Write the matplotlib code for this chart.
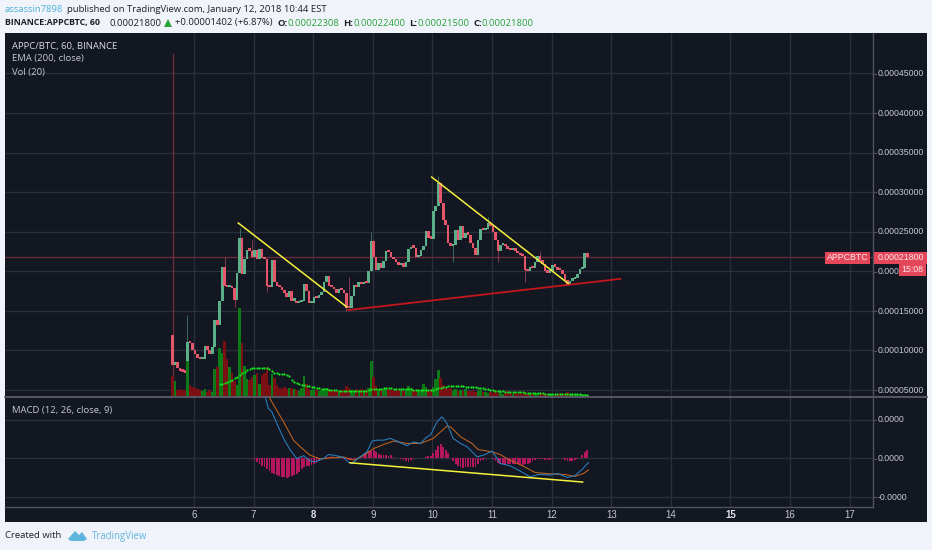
import numpy as np
import matplotlib
matplotlib.use("Agg")
import matplotlib.pyplot as plt
from matplotlib.patches import Rectangle, Polygon

W, H = 932, 550
BG = "#131722"
GRID = "#2b2f3b"
AXIS = "#50535e"
PAGE = "#f0f3fa"
TXT = "#c5c8d0"
UP = "#5bb08a"
DOWN = "#e5566a"
LINE_RED = "#6e2a3a"

# first candle opens here, every later one opens at the previous close (1e-5 BTC)
first_open = 12.0
closes = [8.2, 8.5, 7.8, 7.4, 7.3, 7.2, 11.1, 10.9, 10.0, 9.6,
          9.1, 8.9, 8.9, 10.5, 10.0, 9.6, 10.4, 13.8, 13.2, 16.3,
          20.6, 18.1, 18.0, 18.1, 17.9, 16.4, 19.8, 24.2, 19.6, 21.6,
          22.7, 22.6, 21.8, 22.7, 21.5, 22.8, 21.7, 21.5, 18.2, 18.0,
          21.4, 18.6, 18.2, 18.0, 17.6, 17.2, 16.7, 17.5, 16.3, 16.3,
          16.0, 16.1, 16.3, 18.4, 17.5, 16.0, 16.0, 16.8, 16.6, 17.0,
          17.4, 18.7, 19.4, 18.2, 18.0, 17.7, 17.3, 17.8, 17.6, 17.2,
          15.4, 15.3, 16.9, 18.3, 18.0, 18.6, 18.4, 18.7, 18.5, 20.0,
          23.8, 21.8, 20.2, 21.0, 20.4, 21.3, 22.5, 22.4, 21.8, 21.5,
          21.2, 20.8, 21.0, 20.6, 21.2, 22.8, 23.1, 23.0, 21.8, 21.9,
          22.7, 23.2, 25.1, 24.2, 24.1, 27.6, 28.2, 31.2, 28.6, 26.5,
          25.9, 23.6, 23.2, 23.3, 25.2, 24.0, 25.7, 24.2, 24.8, 24.6,
          23.6, 23.0, 22.1, 24.0, 25.3, 25.2, 25.3, 26.1, 25.7, 24.9,
          23.9, 22.5, 23.3, 23.3, 23.2, 22.8, 22.7, 23.0, 22.5, 22.3,
          22.0, 21.9, 20.2, 20.0, 20.6, 20.4, 21.2, 21.9, 21.4, 20.9,
          20.0, 19.8, 20.0, 20.8, 20.6, 20.2, 20.1, 19.6, 18.9, 18.3,
          18.8, 19.0, 19.1, 19.6, 20.3, 20.4, 22.3, 21.8]
# candles with a wick long enough to read
wick_hours = [6, 21, 27, 32, 71, 80, 107, 127, 148, 25, 113, 131, 142, 70, 38]
wick_ends = [14.5, 21.8, 25.5, 24.0, 19.3, 24.9, 32.0, 26.9, 22.6, 15.5, 21.2, 21.2, 18.7, 15.0, 17.4]

volumes = [21, 16, 7, 8, 7, 7, 36, 12, 10, 9,
           8, 7, 6, 8, 5, 7, 5, 28, 30, 49,
           44, 56, 38, 30, 24, 16, 12, 89, 54, 31,
           18, 17, 20, 22, 24, 13, 22, 24, 30, 12,
           23, 19, 12, 9, 8, 10, 8, 9, 9, 8,
           7, 6, 9, 21, 13, 8, 7, 8, 7, 6,
           7, 8, 9, 8, 7, 6, 7, 6, 7, 7,
           11, 9, 7, 7, 8, 7, 8, 7, 7, 9,
           36, 20, 11, 8, 8, 8, 9, 8, 7, 7,
           6, 7, 6, 6, 8, 11, 9, 7, 6, 7,
           7, 13, 10, 7, 8, 10, 18, 27, 19, 12,
           9, 8, 9, 7, 8, 6, 7, 6, 8, 6,
           6, 7, 5, 6, 7, 5, 5, 4, 5, 4,
           6, 4, 5, 3, 4, 6, 4, 3, 4, 3,
           4, 3, 5, 3, 4, 3, 3, 4, 3, 4,
           3, 2, 3, 3, 2, 3, 4, 3, 3, 5,
           3, 2, 3, 2, 3, 2, 3, 2]
# volume average starts at hour 19
vol_ma = [12.7, 13.5, 14, 15, 16, 17, 19, 20, 22, 24, 25.5,
          27, 28, 29, 29.5, 29.5, 29.5, 29, 29, 29, 28,
          26, 24.5, 24, 23.5, 23, 23, 22.5, 21, 17, 15,
          14, 13, 12.5, 12, 11.5, 11, 10.5, 10, 9.5, 9,
          8.5, 8, 8, 7.5, 7, 7, 7, 6.5, 6.5, 6.5,
          6.5, 6.5, 6, 6, 6, 6, 6, 6, 6, 7,
          8, 8.5, 8.5, 8.5, 8.5, 9, 9, 9, 8.7, 8.5,
          8.3, 8.2, 8, 7.9, 7.8, 7.7, 7.6, 7.5, 7.4, 7.3,
          7.2, 7.1, 7, 7, 7, 7.5, 8, 9, 9.5, 10,
          10.5, 10.8, 11, 11, 11, 10.8, 10.7, 10.6, 10.5, 10.3,
          10, 9.8, 9.6, 9.5, 9.3, 9, 8.5, 8, 7.5, 6.8,
          6, 5.8, 5.7, 5.6, 5.5, 5.4, 5.3, 5.2, 5.1, 5,
          4.9, 4.7, 4.5, 4.4, 4.3, 4.1, 4, 3.9, 3.7, 3.6,
          3.5, 3.4, 3.3, 3.3, 3.2, 3.2, 3.2, 3.1, 3.1, 3,
          3, 2.9, 2.8, 2.7, 2.6, 2.5, 2.4, 2.3]

macd_hours = [35, 37.3, 38.6, 40, 42, 44.7, 47.4, 50, 52.8, 55.4, 57.5, 60.8, 62.8, 65, 69, 70.5, 72.2, 75.6, 78.3,
              80.3, 82.3, 85, 87.7, 90.4, 94.4, 97, 99.8, 102, 104, 106.5, 108.5, 110.5, 113, 116, 118.6, 122.6,
              125.3, 128.7, 132, 136, 140, 144, 147.5, 152, 155, 159, 162, 165, 167.5]
macd_vals = [3.6, 3.16, 2.57, 2.39, 1.8, 1.03, 0.43, 0, 0.14, -0.12, -0.17, 0, 0.2, 0.17, 0.05, -0.17, -0.26, 0.09, 0.34,
             0.89, 0.94, 0.94, 1.03, 0.89, 0.65, 0.85, 0.77, 1.06, 1.23, 1.88, 2.14, 1.8, 1.03, 0.77, 0.6, 0.09,
             0.17, 0.38, -0.26, -0.38, -0.65, -0.94, -0.82, -0.85, -0.77, -0.97, -0.89, -0.55, -0.2]
signal_hours = [37, 38.8, 44.7, 48.7, 51.4, 55.4, 59.5, 63.5, 69, 73, 77, 81, 85, 89, 94.4, 99.8, 105, 110.5, 112,
                116, 120.6, 123, 128.7, 132, 135, 141, 146, 152, 158, 162, 165.5, 167.5]
signal_vals = [3.7, 3.16, 1.88, 0.94, 0.6, 0.17, -0.03, 0.03, 0.07, -0.09, 0.17, 0.51, 0.72, 0.89, 0.77, 0.77, 1.03, 1.66, 1.62,
               1.11, 0.77, 0.46, 0.34, 0.2, -0.03, -0.38, -0.72, -0.79, -0.82, -0.92, -0.77, -0.58]
# histogram starts at hour 33
macd_hist = [-0.1, -0.2, -0.3, -0.4, -0.45, -0.55, -0.65, -0.72, -0.78, -0.85, -0.9, -0.93, -0.97, -1.0, -0.95, -0.9, -0.85,
             -0.8, -0.7, -0.55, -0.45, -0.4, -0.38, -0.35, -0.3, -0.25, -0.12, -0.05, 0.05, 0.1, 0.1, 0.12, 0.08, 0.05,
             0.03, 0.02, -0.03, -0.05, -0.1, -0.1, -0.05, 0.02, 0.08, 0.15, 0.25, 0.35, 0.4, 0.38, 0.42, 0.35, 0.25, 0.2,
             0.2, 0.17, 0.15, 0.17, 0.07, 0.05, 0.02, -0.03, -0.1, -0.15, -0.18, -0.1, -0.02, 0.0, 0.02, 0.03, 0.05, 0.1,
             0.15, 0.15, 0.3, 0.45, 0.65, 0.72, 0.6, 0.45, 0.3, 0.0, -0.15, -0.3, -0.4, -0.45, -0.48, -0.45, -0.45, -0.45,
             -0.45, -0.45, -0.3, -0.15, -0.08, -0.02, 0.0, 0.02, -0.02, -0.15, -0.22, -0.28, -0.3, -0.32, -0.3, -0.3, -0.3,
             -0.3, -0.3, -0.32, -0.32, -0.3, -0.28, -0.22, -0.12, -0.06, -0.03, -0.03, -0.05, -0.08, -0.1, -0.06, -0.02, 0,
             0, 0, -0.02, -0.08, -0.12, -0.14, -0.14, -0.1, -0.05, 0.05, 0.2, 0.35, 0.42]

trend1_days, trend1_px = [6.743, 8.562], [26.1, 15.5]
trend2_days, trend2_px = [9.988, 12.28], [31.9, 18.45]
support_days, support_px = [8.59, 13.15], [15.1, 19.04]
macd_trend_days, macd_trend_vals = [8.617, 12.52], [-0.22, -1.21]
last_price = 21.8
start_marker_day, start_marker_top = 5.64, 47.6

price_ticks = [5, 10, 15, 20, 25, 30, 35, 40, 45]
day_ticks = list(range(6, 18))
macd_ticks = [2.0, 0.0, -2.0]
macd_labels = ["0.0000", "0.0000", "-0.0000"]
bold_days = [8, 15]

plt.rcParams["font.family"] = ["Liberation Sans", "DejaVu Sans"]
AXFONT = 6.3
DAYFONT = 6.9
UIFONT = 6.8


def px_axes(x0, y0, x1, y1, **kw):
    return fig.add_axes([x0 / W, 1 - y1 / H, (x1 - x0) / W, (y1 - y0) / H], **kw)


def hour2day(h):
    return 5.64 + np.asarray(h, dtype=float) / 24


fig = plt.figure(figsize=(W / 100, H / 100), dpi=100, facecolor=PAGE)

frame = px_axes(5, 33, 927, 522)
frame.set_facecolor(BG)
frame.set_xticks([])
frame.set_yticks([])
frame.set_zorder(-5)
for s in frame.spines.values():
    s.set_visible(False)

XLIM = (6 - 189 / 59.6, 6 + 678.5 / 59.6)
hours = np.arange(len(closes))
days = hour2day(hours)
closes_a = np.array(closes)
opens = np.concatenate([[first_open], closes_a[:-1]])
is_up = closes_a >= opens
tops = np.maximum(opens, closes_a)
bottoms = np.minimum(opens, closes_a)
bar_w = 1.05 / 24

# price pane
ax = px_axes(5, 33, 872.5, 397)
ax.patch.set_alpha(0)
ax.set_xlim(XLIM)
ax.set_ylim(4.12, 50.1)
ax.set_xticks(day_ticks)
ax.set_yticks(price_ticks)
ax.grid(True, color=GRID, lw=1)
ax.set_axisbelow(True)
ax.tick_params(length=0, labelbottom=False, labelleft=False)
for s in ax.spines.values():
    s.set_visible(False)

ax.axhline(last_price, color=LINE_RED, lw=0.9, zorder=1)
ax.vlines(start_marker_day, 4.12, start_marker_top, color=LINE_RED, lw=1, zorder=1)

for h, end in zip(wick_hours, wick_ends):
    ax.vlines(hour2day(h), min(end, bottoms[h]), max(end, tops[h]),
              color=UP if is_up[h] else DOWN, lw=0.7, alpha=0.55, zorder=2)
body = np.maximum(tops - bottoms, 0.3)
ax.bar(days[is_up], body[is_up], bottom=bottoms[is_up], width=bar_w, color=UP, lw=0, zorder=3)
ax.bar(days[~is_up], body[~is_up], bottom=bottoms[~is_up], width=bar_w, color=DOWN, lw=0, zorder=3)

ax.plot(trend1_days, trend1_px, color="#f5f03c", lw=1.1, zorder=6)
ax.plot(trend2_days, trend2_px, color="#f5f03c", lw=1.1, zorder=6)
ax.plot(support_days, support_px, color="#c4161c", lw=1.3, zorder=5)

# volume sits with the candles, heights are free units
vol = px_axes(5, 33, 872.5, 397)
vol.patch.set_alpha(0)
vol.set_xlim(XLIM)
vol.set_ylim(0, 364)
vol.axis("off")
vol_a = np.array(volumes)
vol.bar(days[is_up], vol_a[is_up], width=bar_w, color="#0b7a17", lw=0, zorder=2)
vol.bar(days[~is_up], vol_a[~is_up], width=bar_w, color="#7a0f14", lw=0, zorder=2)
vol.plot(hour2day(np.arange(19, 168)), vol_ma, ls="none", marker="o", ms=1.6, mew=0, color="#14e81e", zorder=4)
ax.set_zorder(2)
vol.set_zorder(3)

# MACD pane
am = px_axes(5, 397, 872.5, 507)
am.patch.set_alpha(0)
am.set_xlim(XLIM)
am.set_ylim(-2.49, 3.155)
am.set_xticks(day_ticks)
am.set_yticks(macd_ticks)
am.grid(True, color=GRID, lw=1)
am.set_axisbelow(True)
am.tick_params(length=0, labelbottom=False, labelleft=False)
for s in am.spines.values():
    s.set_visible(False)
am.bar(hour2day(np.arange(33, 168)), macd_hist, width=0.7 / 24, color="#b5175e", lw=0, zorder=2)
am.plot(hour2day(signal_hours), signal_vals, color="#c2641f", lw=0.75, zorder=3)
am.plot(hour2day(macd_hours), macd_vals, color="#2a80c0", lw=0.75, zorder=4)
am.plot(macd_trend_days, macd_trend_vals, color="#f5f03c", lw=1.1, zorder=5)

# pane borders and all labels
over = px_axes(0, 0, W, H)
over.set_xlim(0, W)
over.set_ylim(H, 0)
over.axis("off")
over.patch.set_alpha(0)
over.set_zorder(20)
over.plot([5, 927], [397, 397], color="#5a5d68", lw=1.3)
over.plot([5, 872.5], [507, 507], color=AXIS, lw=1)
over.plot([872.5, 872.5], [33, 507], color=AXIS, lw=1)

for p in price_ticks:
    y = 232 + (25 - p) * 7.92
    over.plot([872.5, 876], [y, y], color=AXIS, lw=0.8)
    # the countdown tag hides the end of the 0.0002 label
    lab = "0.000" if p == 20 else "%.8f" % (p * 1e-5)
    over.text(878, y, lab, color=TXT, fontsize=AXFONT, va="center", ha="left")
for tick, lab in zip(macd_ticks, macd_labels):
    y = 458.5 - tick / 0.0513
    over.plot([872.5, 876], [y, y], color=AXIS, lw=0.8)
    over.text(878, y, lab, color=TXT, fontsize=AXFONT, va="center", ha="left")
for d in day_ticks:
    over.text(194 + (d - 6) * 59.6, 515, str(d), color="#e0e3ea" if d in bold_days else TXT, fontsize=DAYFONT,
              ha="center", va="center", fontweight="bold" if d in bold_days else "normal")

# last price tags
over.add_patch(Rectangle((825, 252), 45, 11.5, color="#e5475a", lw=0, zorder=5))
over.add_patch(Rectangle((874, 252), 53, 11.5, color="#e5475a", lw=0, zorder=5))
over.add_patch(Rectangle((899, 264), 27, 11.5, color="#e5475a", lw=0, zorder=5))
over.text(847.5, 258, "APPCBTC", color="#fbe9ea", fontsize=AXFONT, ha="center", va="center", zorder=6)
over.text(878, 258, "0.00021800", color="#fbe9ea", fontsize=AXFONT, ha="left", va="center", zorder=6)
over.text(912.5, 270, "15:08", color="#fbe9ea", fontsize=AXFONT, ha="center", va="center", zorder=6)

# pane legends
over.text(12, 46, "APPC/BTC, 60, BINANCE", color="#d8dae0", fontsize=UIFONT, family="Open Sans", va="center")
over.text(12, 59, "EMA (200, close)", color=TXT, fontsize=UIFONT, family="Open Sans", va="center")
over.text(12, 72, "Vol (20)", color=TXT, fontsize=UIFONT, family="Open Sans", va="center")
over.text(12, 410, "MACD (12, 26, close, 9)", color=TXT, fontsize=UIFONT, family="Open Sans", va="center")

# header
HEAD = "#1c1f26"
GREEN = "#2aa33a"
over.text(5, 9, "assassin7898", color="#4fb0d8", fontsize=UIFONT, family="Open Sans", va="center")
over.text(67, 9, "published on TradingView.com, January 12, 2018 10:44 EST", color=HEAD, fontsize=UIFONT,
          family="Open Sans", va="center")
over.text(5, 23, "BINANCE:APPCBTC, 60", color=HEAD, fontsize=6.3, family="Open Sans", fontweight="bold", va="center")
over.text(109, 23, "0.00021800", color=HEAD, fontsize=UIFONT, family="Open Sans", va="center")
over.add_patch(Polygon([[164, 27], [172, 27], [168, 19]], color=GREEN, lw=0))
over.text(175, 23, "+0.00001402 (+6.87%)", color=HEAD, fontsize=UIFONT, family="Open Sans", va="center")
for lab, x, val, vx in [("O:", 277, "0.00022308", 287), ("H:", 343, "0.00022400", 353),
                        ("L:", 409, "0.00021500", 417), ("C:", 473, "0.00021800", 482)]:
    over.text(x, 23, lab, color=HEAD, fontsize=UIFONT, family="Open Sans", fontweight="bold", va="center")
    over.text(vx, 23, val, color=GREEN, fontsize=UIFONT, family="Open Sans", va="center")

# footer
over.text(5, 536, "Created with", color=HEAD, fontsize=UIFONT, family="Open Sans", va="center")
over.add_patch(Polygon([[68, 539], [75, 531], [79, 535], [82, 532], [87, 539], [84, 541], [71, 541]],
                       color="#5fb5dd", lw=0))
over.text(92, 536, "TradingView", color="#62b6dc", fontsize=6.9, family="Open Sans", va="center")

fig.savefig("out.png", dpi=100, facecolor=PAGE)
